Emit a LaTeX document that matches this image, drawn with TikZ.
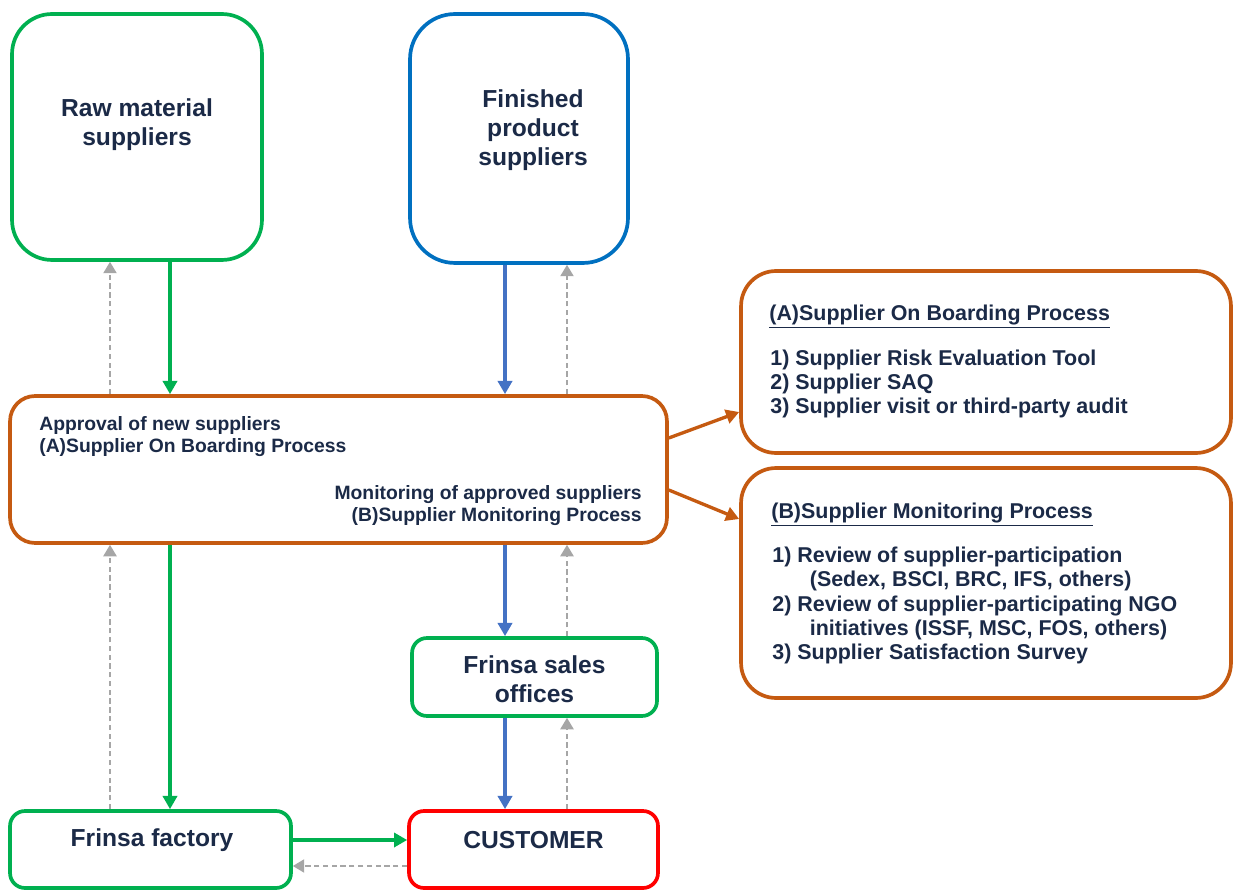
\documentclass[tikz,border=0pt]{standalone}
\usepackage{fontspec}
\setmainfont{Liberation Sans}
\usetikzlibrary{arrows.meta,positioning,calc}
\definecolor{ink}{HTML}{1B2A47}
\definecolor{grn}{HTML}{00B050}
\definecolor{blu}{HTML}{4472C4}
\definecolor{bbox}{HTML}{0070C0}
\definecolor{org}{HTML}{C55A11}
\definecolor{rd}{HTML}{FF0000}
\definecolor{gry}{HTML}{A6A6A6}
\tikzset{
  box/.style={draw,line width=2.1pt,fill=white,inner sep=0pt},
  lbl/.style={text=ink,font=\bfseries\fontsize{14}{16.5}\selectfont,align=center,inner sep=0pt},
  small/.style={text=ink,font=\bfseries\fontsize{11}{13}\selectfont,inner sep=0pt},
  list/.style={text=ink,font=\bfseries\fontsize{12.2}{13.7}\selectfont,align=left,inner sep=0pt},
  flow/.style={line width=1.9pt,-{Triangle[width=8pt,length=7.5pt]}},
  back/.style={draw=gry,line width=1pt,dash pattern=on 3pt off 2pt,-{Triangle[width=7.5pt,length=6.5pt,fill=gry]}}
}
\begin{document}
\begin{tikzpicture}[x=0.02cm,y=-0.02cm]
\useasboundingbox(0,0)rectangle(1233,891);

%suppliers
\node[box,draw=grn,rounded corners=0.8cm,minimum width=5cm,minimum height=4.92cm](raw)at(137,137){};
\node[lbl](rawtxt)at(137,125){Raw material\\suppliers};
\node[box,draw=bbox,rounded corners=0.9cm,minimum width=4.36cm,minimum height=4.98cm](fin)at(519,138.5){};
\node[lbl](fintxt)at(533,130){Finished\\product\\suppliers};

%approval and monitoring
\node[box,draw=org,rounded corners=0.5cm,minimum width=13.14cm,minimum height=2.94cm](appr)at(338.5,469.5){};
\node[small,anchor=west,align=left](apprtxt)at(39,436.5){Approval of new suppliers\\(A)Supplier On Boarding Process};
\node[small,anchor=east,align=right](montxt)at(642,505.5){Monitoring of approved suppliers\\(B)Supplier Monitoring Process};

%process boxes
\node[box,draw=org,rounded corners=0.7cm,minimum width=9.8cm,minimum height=3.64cm](boxA)at(986,362){};
\node[list,anchor=west](hdA)at(769,317){\underline{(A)Supplier On Boarding Process}};
\node[list,anchor=west](lstA)at(770,384){1) Supplier Risk Evaluation Tool\\2) Supplier SAQ\\3) Supplier visit or third-party audit};
\node[box,draw=org,rounded corners=0.7cm,minimum width=9.8cm,minimum height=4.6cm](boxB)at(986,583){};
\node[list,anchor=west](hdB)at(771,515){\underline{(B)Supplier Monitoring Process}};
\node[list,anchor=west](lstB)at(772,605.5){1) Review of supplier-participation\\
\hspace*{1.75em}(Sedex, BSCI, BRC, IFS, others)\\
2) Review of supplier-participating NGO\\
\hspace*{1.75em}initiatives (ISSF, MSC, FOS, others)\\
3) Supplier Satisfaction Survey};

%frinsa and customer
\node[box,draw=grn,rounded corners=0.3cm,minimum width=4.9cm,minimum height=1.56cm](sales)at(534.5,677){};
\node[lbl](salestxt)at(534.5,679.5){Frinsa sales\\offices};
\node[box,draw=grn,rounded corners=0.3cm,minimum width=5.62cm,minimum height=1.54cm](fac)at(150.5,849.5){};
\node[lbl](factxt)at(152,840){Frinsa factory};
\node[box,draw=rd,rounded corners=0.3cm,minimum width=4.98cm,minimum height=1.54cm](cust)at(533.5,849.5){};
\node[lbl](custtxt)at(533.5,840){CUSTOMER};

%arrow columns
\coordinate(xb)at(110,0);
\coordinate(xg)at(170,0);
\coordinate(xu)at(505,0);
\coordinate(xr)at(567,0);
\coordinate(yf)at(0,840);
\coordinate(yr)at(0,866);
\coordinate(ya1)at(0,438);
\coordinate(ya2)at(0,412);
\coordinate(yb1)at(0,490);
\coordinate(yb2)at(0,519);

%flows
\draw[flow,grn](raw.south-|xg)--(appr.north-|xg);
\draw[flow,grn](appr.south-|xg)--(fac.north-|xg);
\draw[flow,blu](fin.south-|xu)--(appr.north-|xu);
\draw[flow,blu](appr.south-|xu)--(sales.north-|xu);
\draw[flow,blu](sales.south-|xu)--(cust.north-|xu);
\draw[flow,grn](fac.east|-yf)--(cust.west|-yf);
\draw[flow,org](appr.east|-ya1)--(boxA.west|-ya2);
\draw[flow,org](appr.east|-yb1)--(boxB.west|-yb2);

%feedback
\draw[back](appr.north-|xb)--(raw.south-|xb);
\draw[back](fac.north-|xb)--(appr.south-|xb);
\draw[back](appr.north-|xr)--(fin.south-|xr);
\draw[back](sales.north-|xr)--(appr.south-|xr);
\draw[back](cust.north-|xr)--(sales.south-|xr);
\draw[back](cust.west|-yr)--(fac.east|-yr);
\end{tikzpicture}
\end{document}
